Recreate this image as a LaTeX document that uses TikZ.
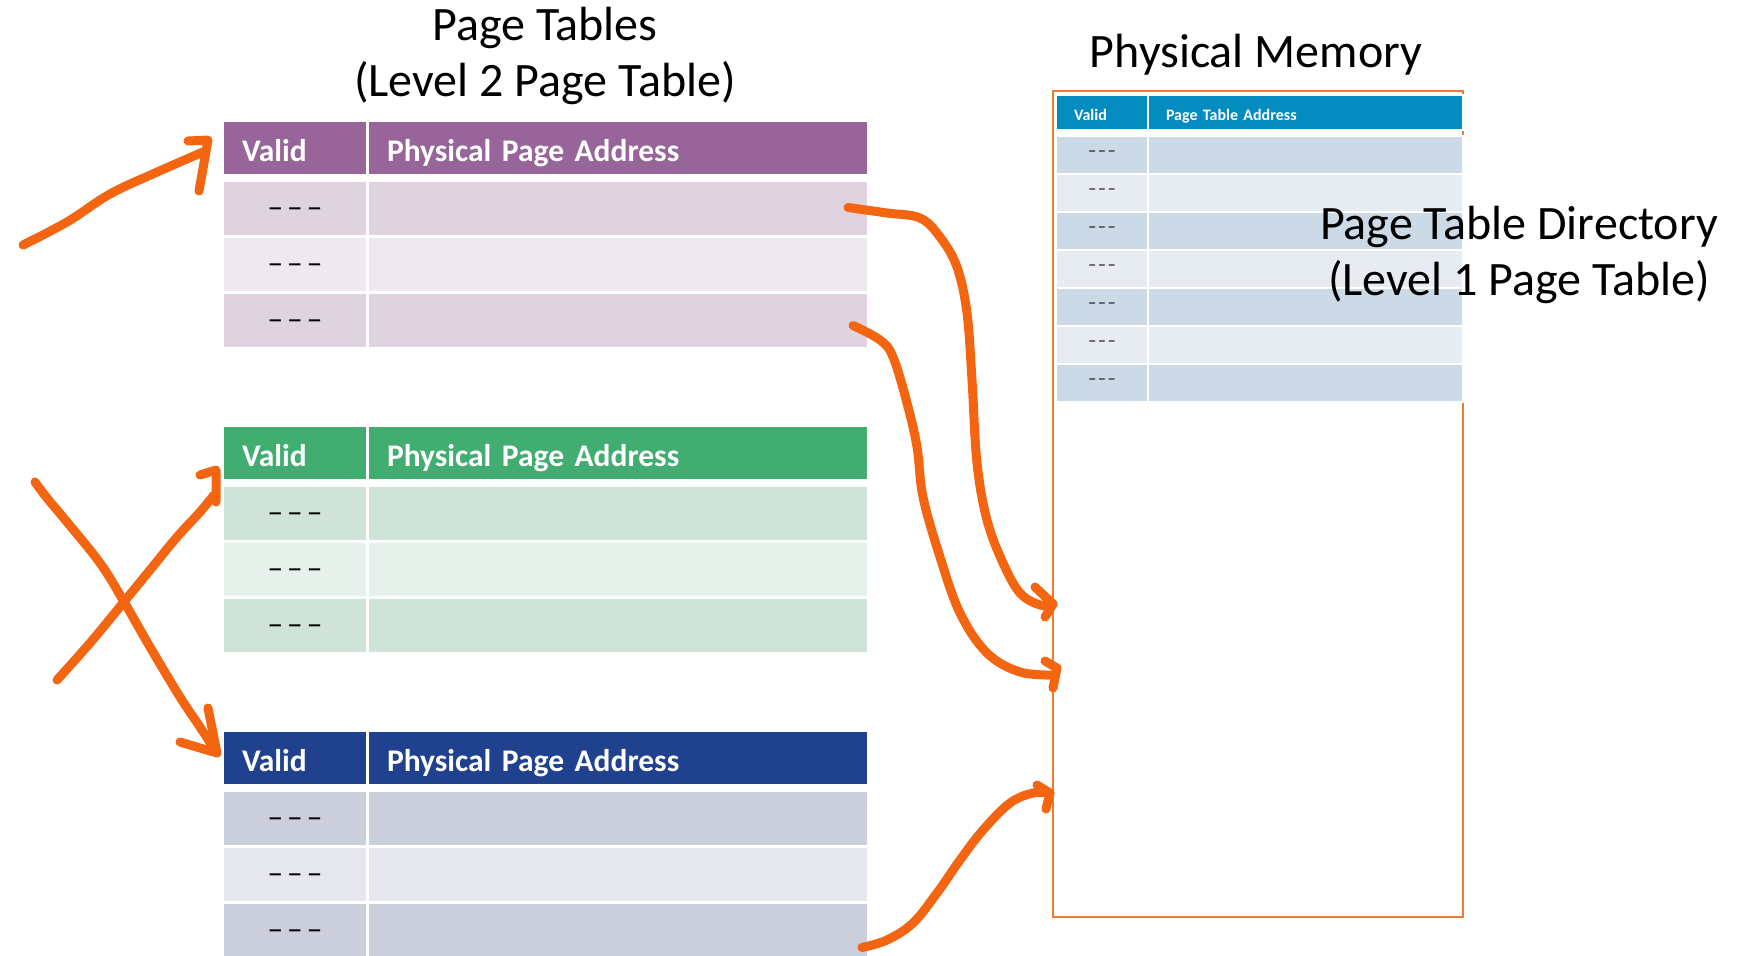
\documentclass[tikz,border=0pt]{standalone}
\usepackage{fontspec}
\setmainfont{Carlito}
\newfontfamily\dashfont{DejaVu Sans}
\usetikzlibrary{calc}

\definecolor{purpleHd}{HTML}{97659A}
\definecolor{purpleDk}{HTML}{DED3DF}
\definecolor{purpleLt}{HTML}{EEE9EF}
\definecolor{greenHd}{HTML}{41AD70}
\definecolor{greenDk}{HTML}{CFE3D8}
\definecolor{greenLt}{HTML}{E7F1EB}
\definecolor{blueHd}{HTML}{20418E}
\definecolor{blueDk}{HTML}{CBCEDB}
\definecolor{blueLt}{HTML}{E6E7EE}
\definecolor{dirHd}{HTML}{048BBF}
\definecolor{dirDk}{HTML}{CBDAE6}
\definecolor{dirLt}{HTML}{E7ECF3}
\definecolor{memEdge}{HTML}{EB7D32}
\definecolor{ink}{HTML}{F46511}

% empty valid bits, #1 is the gap between the dashes
\newcommand\nullbits[1]{{\dashfont\textendash\kern#1\textendash\kern#1\textendash}}

\begin{document}
\begin{tikzpicture}[x=1pt,y=-1pt,
        cell/.style={anchor=north west,inner ysep=0pt,outer sep=0pt},
        hv/.style={cell,minimum height=52pt,text width=106pt,inner xsep=18pt,
            text height=28pt,text depth=2pt,text=white,
            font=\fontsize{31.5}{38}\selectfont\bfseries},
        ha/.style={hv,text width=462pt},
        rv/.style={cell,minimum height=53pt,minimum width=142pt,inner xsep=0pt,
            text height=16pt,text depth=0pt,font=\fontsize{28}{32}\selectfont},
        ra/.style={cell,minimum height=53pt,minimum width=498pt},
        dhv/.style={cell,draw=white,line width=2pt,minimum height=35pt,
            text width=56pt,inner xsep=18pt,text height=17pt,text depth=1pt,
            text=white,font=\fontsize{16}{19}\selectfont\bfseries},
        dha/.style={dhv,text width=279pt},
        drv/.style={cell,draw=white,line width=2pt,minimum height=38pt,
            minimum width=92pt,inner xsep=0pt,text height=5pt,text depth=4pt,
            font=\fontsize{14.6}{17}\selectfont},
        dra/.style={drv,minimum width=315pt},
        title/.style={font=\fontsize{48}{56}\selectfont,align=center},
        pen/.style={draw=ink,line width=9pt,line cap=round,line join=round}
    ]
    \useasboundingbox (0,0) rectangle (1749,956);

    % second level tables
    \foreach \t/\y/\hd/\dk/\lt in {p/122/purpleHd/purpleDk/purpleLt,
            g/427/greenHd/greenDk/greenLt, b/732/blueHd/blueDk/blueLt}{
        \node[hv,fill=\hd] (\t hv) at (224,\y) {Valid};
        \node[ha,fill=\hd] (\t ha) at (369,\y) {Physical Page Address};
        \foreach \r/\c in {1/\dk,2/\lt,3/\dk}{
            \node[rv,fill=\c] (\t v\r) at (224,{\y+60+56*(\r-1)}) {\nullbits{5.7pt}};
            \node[ra,fill=\c] (\t a\r) at (369,{\y+60+56*(\r-1)}) {};
        }
    }

    % physical memory with the directory at its top
    \node[cell,draw=memEdge,line width=2.5pt,minimum width=410pt,
        minimum height=826pt] (mem) at (1053,91) {};
    \node[dhv,fill=dirHd] (dhv) at (1056,95) {Valid};
    \node[dha,fill=dirHd] (dha) at (1148,95) {Page Table Address};
    \foreach \r/\c in {1/dirDk,2/dirLt,3/dirDk,4/dirLt,5/dirDk,6/dirLt,7/dirDk}{
        \node[drv,fill=\c] (dv\r) at (1056,{136+38*(\r-1)}) {\nullbits{2.4pt}};
        \node[dra,fill=\c] (da\r) at (1148,{136+38*(\r-1)}) {};
    }

    \node[title] (ptTitle) at (545,56) {Page Tables\\(Level 2 Page Table)};
    \node[title,anchor=base] (pmTitle) at (1256,67) {Physical Memory};
    \node[title] (pdTitle) at (1519,255) {Page Table Directory\\(Level 1 Page Table)};

    % hand drawn pointers
    \coordinate (a0) at (23,245);
    \coordinate (b0) at (57,680);
    \coordinate (c0) at (35,482);
    \coordinate (d1) at (1053,604);
    \coordinate (e1) at (1055,675);
    \coordinate (f1) at (1050,793);

    \draw[pen] plot[smooth,tension=0.6] coordinates
        {(a0) (67,222) (110,194) (155,173) (203,152)};
    \draw[pen] (188,141) -- (208,140) -- (199,191);

    \draw[pen] plot[smooth,tension=0.6] coordinates
        {(b0) (90,643) (123,603) (150,570) (177,537) (200,512) (214,495)};
    \draw[pen] (200,475) -- (216,470) -- (216,502);

    \draw[pen] plot[smooth,tension=0.6] coordinates
        {(c0) (47,498) (67,522) (100,563) (123,600) (150,647) (180,697) (200,727) (215,750)};
    \draw[pen] (180,742) -- (217,753) -- (208,708);

    \draw[pen] plot[smooth,tension=0.6] coordinates
        {($(pa1.east)+(-19,-1)$) (887,213) (920,218) (940,237) (957,267) (967,313)
         (972,380) (977,463) (987,520) (1003,563) (1020,593) (1040,605) (d1)};
    \draw[pen] (1035,587) -- (d1) -- (1045,617);

    \draw[pen] plot[smooth,tension=0.6] coordinates
        {($(pa3.east)+(-14,5)$) (880,340) (893,357) (907,403) (917,447) (923,497)
         (940,557) (960,613) (987,653) (1020,672) (e1)};
    \draw[pen] (1045,661) -- (1057,668) -- (1053,688);

    \draw[pen] plot[smooth,tension=0.6] coordinates
        {($(ba3.east)+(-5,17)$) (887,940) (913,923) (937,893) (960,860) (983,830)
         (1010,803) (1033,793) (f1)};
    \draw[pen] (1037,785) -- (f1) -- (1046,809);
\end{tikzpicture}
\end{document}
